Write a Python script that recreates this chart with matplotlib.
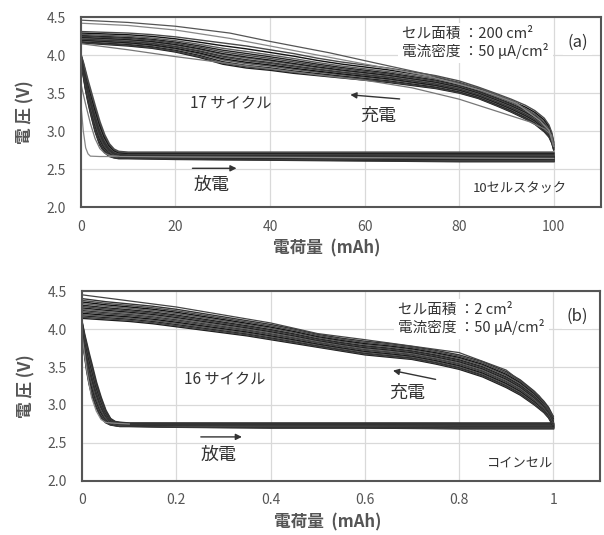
import numpy as np
import matplotlib.pyplot as plt

plt.rcParams['font.family'] = ['Noto Sans CJK JP', 'DejaVu Sans']

# (a) 10セルスタック, 電荷量 mAh
chg_x_a = [0, 5, 10, 15, 20, 25, 30, 35, 40, 45, 50, 55, 60, 65, 70, 75, 80, 84, 88, 91, 94, 96, 98, 99, 99.6, 100]
chg_top_a = [4.31, 4.30, 4.29, 4.27, 4.24, 4.20, 4.16, 4.12, 4.07, 4.02, 3.96, 3.91, 3.87, 3.83, 3.78, 3.73,
             3.66, 3.58, 3.49, 3.42, 3.34, 3.27, 3.17, 3.08, 2.98, 2.86]
chg_bot_a = [4.16, 4.14, 4.12, 4.09, 4.04, 3.97, 3.88, 3.83, 3.80, 3.76, 3.73, 3.70, 3.67, 3.64, 3.60, 3.56,
             3.50, 3.43, 3.33, 3.25, 3.16, 3.09, 2.99, 2.92, 2.84, 2.75]
chg_u1_x_a = [0, 10, 20, 31.5, 40, 52.6, 62, 73.8, 85, 92, 97, 99, 100]
chg_u1_a = [4.46, 4.43, 4.38, 4.29, 4.18, 4.03, 3.90, 3.74, 3.55, 3.38, 3.15, 3.02, 2.82]
chg_u2_a = [4.42, 4.39, 4.33, 4.22, 4.12, 3.97, 3.86, 3.72, 3.53, 3.37, 3.14, 3.01, 2.80]
chg_f_x_a = [0, 10, 20, 30, 40, 50, 60, 70, 80, 90, 95, 98, 99.5, 100]
chg_f_a = [4.15, 4.07, 3.98, 3.90, 3.82, 3.74, 3.67, 3.57, 3.42, 3.22, 3.12, 3.03, 2.95, 2.80]

dis_x_a = [0, 0.5, 1, 1.5, 2, 3, 4, 5, 6, 7, 8, 10, 20, 40, 60, 80, 100]
dis_top_a = [4.00, 3.90, 3.78, 3.66, 3.55, 3.33, 3.12, 2.95, 2.83, 2.76, 2.73, 2.72, 2.72, 2.72, 2.72, 2.72, 2.72]
dis_bot_a = [3.95, 3.74, 3.55, 3.39, 3.25, 3.00, 2.82, 2.72, 2.67, 2.65, 2.64, 2.64, 2.63, 2.62, 2.61, 2.60, 2.60]
dis_f_x_a = [0, 0.5, 1, 1.5, 2, 4, 8, 20, 100]
dis_f_a = [3.35, 3.00, 2.78, 2.70, 2.67, 2.665, 2.665, 2.66, 2.64]
dis_g_x_a = [0, 1, 2, 3, 4, 5, 6, 8]
dis_g_a = [3.62, 3.35, 3.10, 2.90, 2.77, 2.71, 2.68, 2.67]

# (b) コインセル
chg_x_b = [0, 0.05, 0.1, 0.15, 0.2, 0.25, 0.3, 0.35, 0.4, 0.45, 0.5, 0.55, 0.6, 0.65, 0.7, 0.75, 0.8,
           0.85, 0.9, 0.93, 0.96, 0.98, 0.99, 1.0]
chg_top_b = [4.40, 4.36, 4.33, 4.30, 4.26, 4.21, 4.16, 4.11, 4.06, 4.00, 3.93, 3.88, 3.84, 3.81, 3.77, 3.72,
             3.66, 3.57, 3.44, 3.33, 3.18, 3.05, 2.97, 2.85]
chg_bot_b = [4.14, 4.12, 4.10, 4.07, 4.03, 3.99, 3.95, 3.91, 3.86, 3.81, 3.76, 3.71, 3.66, 3.63, 3.60, 3.54,
             3.47, 3.37, 3.23, 3.13, 3.00, 2.90, 2.83, 2.72]
chg_u1_x_b = [0, 0.2, 0.4, 0.5, 0.6, 0.8, 0.9, 0.97, 1.0]
chg_u1_b = [4.45, 4.29, 4.08, 3.94, 3.86, 3.69, 3.46, 3.12, 2.85]

dis_x_b = [0, 0.005, 0.01, 0.015, 0.02, 0.03, 0.04, 0.05, 0.06, 0.07, 0.08, 0.1, 0.2, 0.4, 0.6, 0.8, 1.0]
dis_top_b = [4.08, 3.93, 3.80, 3.67, 3.55, 3.30, 3.10, 2.93, 2.82, 2.78, 2.77, 2.76, 2.76, 2.76, 2.76, 2.76, 2.76]
dis_bot_b = [3.95, 3.68, 3.45, 3.28, 3.15, 2.97, 2.84, 2.77, 2.74, 2.73, 2.72, 2.72, 2.71, 2.70, 2.70, 2.69, 2.69]
dis_f_x_b = [0, 0.01, 0.02, 0.03, 0.04, 0.05, 0.07, 0.1]
dis_f_b = [3.90, 3.45, 3.10, 2.92, 2.81, 2.77, 2.76, 2.75]

# position of each cycle inside the band (0 = lower edge, 1 = upper edge)
cyc_a = [0, 0.05, 0.12, 0.2, 0.26, 0.33, 0.38, 0.45, 0.5, 0.58, 0.66, 0.75, 0.87, 1.0]
cyc_b = [0, 0.06, 0.13, 0.19, 0.26, 0.33, 0.4, 0.46, 0.53, 0.6, 0.67, 0.75, 0.83, 0.91, 1.0]
greys = ['#1a1a1a', '#444444', '#222222', '#5a5a5a', '#111111', '#4a4a4a', '#333333', '#666666']

fig = plt.figure(figsize=(6.04, 5.35), dpi=100)
ax1 = fig.add_axes([0.134, 0.613, 0.861, 0.355])
ax2 = fig.add_axes([0.136, 0.101, 0.858, 0.355])


def band(ax, x, bot, top, fr, lw):
    bot = np.array(bot)
    top = np.array(top)
    for i, f in enumerate(fr):
        ax.plot(x, bot + f * (top - bot), color=greys[i % len(greys)], lw=lw)


# panel (a)
band(ax1, dis_x_a, dis_bot_a, dis_top_a, cyc_a + [0.5], 1.4)
ax1.plot(dis_f_x_a, dis_f_a, color='#888888', lw=0.9)
ax1.plot(dis_g_x_a, dis_g_a, color='#777777', lw=0.9)
band(ax1, chg_x_a, chg_bot_a, chg_top_a, cyc_a, 1.0)
ax1.plot(chg_u1_x_a, chg_u1_a, color='#555555', lw=0.9)
ax1.plot(chg_u1_x_a, chg_u2_a, color='#888888', lw=0.9)
ax1.plot(chg_f_x_a, chg_f_a, color='#777777', lw=0.9)

# panel (b)
band(ax2, dis_x_b, dis_bot_b, dis_top_b, cyc_b, 1.4)
ax2.plot(dis_f_x_b, dis_f_b, color='#888888', lw=0.9)
band(ax2, chg_x_b, chg_bot_b, chg_top_b, cyc_b, 1.0)
ax2.plot(chg_u1_x_b, chg_u1_b, color='#444444', lw=0.9)

tc = '#555555'
for ax in [ax1, ax2]:
    ax.set_ylim(2.0, 4.5)
    ax.set_yticks([2.0, 2.5, 3.0, 3.5, 4.0, 4.5])
    ax.set_yticklabels(['2.0', '2.5', '3.0', '3.5', '4.0', '4.5'])
    ax.grid(True, color='#d9d9d9', lw=0.9)
    ax.set_axisbelow(True)
    ax.tick_params(length=0, labelsize=10, labelcolor=tc)
    ax.tick_params(axis='y', pad=11)
    ax.tick_params(axis='x', pad=9)
    for s in ax.spines.values():
        s.set_color('#555555')
        s.set_linewidth(1.5)
    ax.set_ylabel('電 圧 (V)', fontsize=12, fontweight='bold', color=tc)
    ax.yaxis.set_label_coords(-0.09, 0.5)
    ax.set_xlabel('電荷量  (mAh)', fontsize=12, fontweight='bold', color=tc)
    ax.xaxis.set_label_coords(0.473, -0.172)

ax1.set_xlim(0, 110)
ax1.set_xticks([0, 20, 40, 60, 80, 100])
ax2.set_xlim(0, 1.1)
ax2.set_xticks([0, 0.2, 0.4, 0.6, 0.8, 1.0])
ax2.set_xticklabels(['0', '0.2', '0.4', '0.6', '0.8', '1'])

box = dict(facecolor='white', edgecolor='none', pad=3)
arr = dict(arrowstyle='-|>', color='#333333', lw=1, mutation_scale=9)

# texts (a)
ax1.text(67.9, 4.16, 'セル面積 ：200 cm²\n電流密度 ：50 μA/cm²', fontsize=10.5,
         color='#333333', va='center', ha='left', linespacing=1.15, bbox=box)
ax1.text(105, 4.17, '(a)', fontsize=12, color='#333333', ha='center', va='center', bbox=box)
ax1.text(23, 3.36, '17 サイクル', fontsize=11, color='#333333', va='center')
ax1.text(62.8, 3.20, '充電', fontsize=13, color='#333333', ha='center', va='center')
ax1.annotate('', xy=(56.4, 3.48), xytext=(68, 3.42), arrowprops=arr)
ax1.text(27.7, 2.29, '放電', fontsize=13, color='#333333', ha='center', va='center')
ax1.annotate('', xy=(33.5, 2.51), xytext=(23, 2.51), arrowprops=arr)
ax1.text(92.8, 2.25, '10セルスタック', fontsize=9.5, color='#333333', ha='center', va='center')

# texts (b)
ax2.text(0.671, 4.13, 'セル面積 ：2 cm²\n電流密度 ：50 μA/cm²', fontsize=10.5,
         color='#333333', va='center', ha='left', linespacing=1.15, bbox=box)
ax2.text(1.05, 4.17, '(b)', fontsize=12, color='#333333', ha='center', va='center', bbox=box)
ax2.text(0.217, 3.33, '16 サイクル', fontsize=11, color='#333333', va='center')
ax2.text(0.69, 3.16, '充電', fontsize=13, color='#333333', ha='center', va='center')
ax2.annotate('', xy=(0.654, 3.46), xytext=(0.756, 3.33), arrowprops=arr)
ax2.text(0.289, 2.34, '放電', fontsize=13, color='#333333', ha='center', va='center')
ax2.annotate('', xy=(0.345, 2.58), xytext=(0.246, 2.58), arrowprops=arr)
ax2.text(1.0, 2.24, 'コインセル', fontsize=9.5, color='#333333', ha='right', va='center')

fig.savefig('out.png', dpi=100)
